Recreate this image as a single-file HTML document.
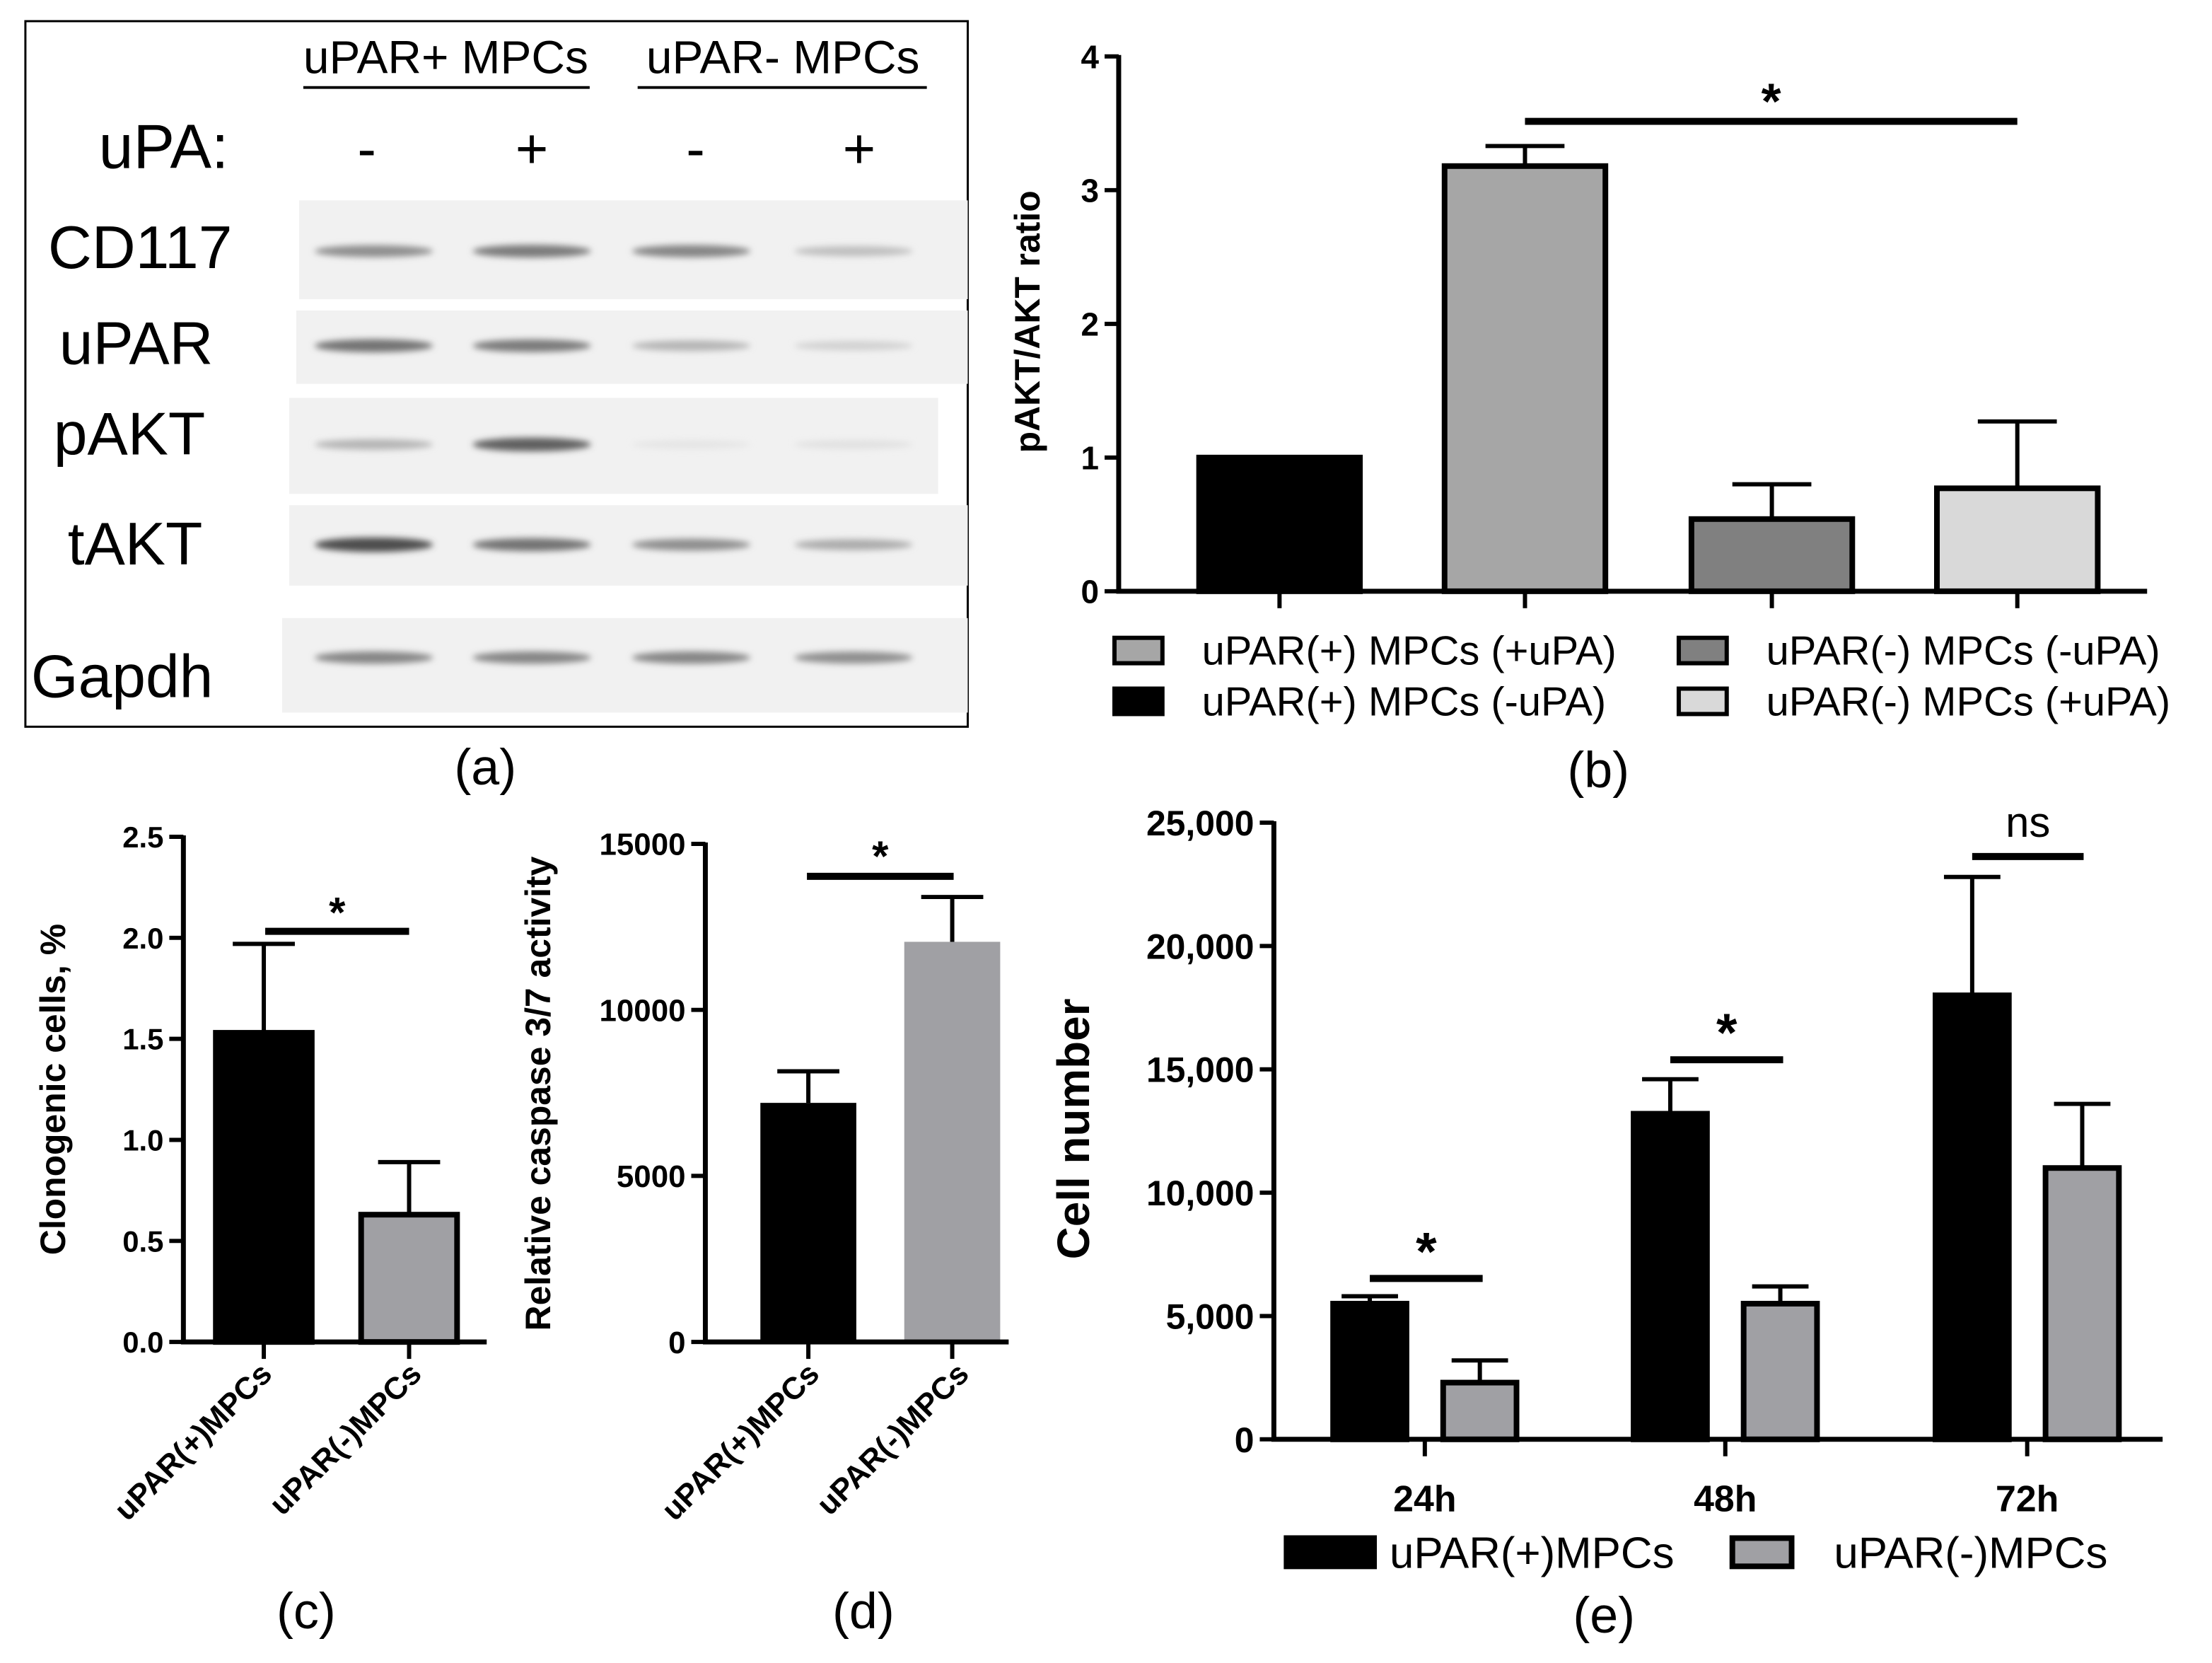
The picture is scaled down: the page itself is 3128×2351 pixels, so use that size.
<!DOCTYPE html>
<html><head><meta charset="utf-8"><style>
html,body{margin:0;padding:0;background:#fff;overflow:hidden}
svg{display:block}
text{font-family:"Liberation Sans",Arial,sans-serif}
</style></head><body>
<svg id="fig" width="3128" height="2351" viewBox="0 0 1568 1178.5" xmlns="http://www.w3.org/2000/svg">
<defs>
<filter id="blur" x="-20%" y="-100%" width="140%" height="300%"><feGaussianBlur stdDeviation="2.2"/></filter>
</defs>
<g id="panelA">
<rect x="18" y="15" width="668" height="500" fill="#fff" stroke="#000" stroke-width="1.5"/>
<text x="316" y="52" font-size="33" text-anchor="middle">uPAR+ MPCs</text>
<line x1="215" y1="62" x2="418" y2="62" stroke="#000" stroke-width="2"/>
<text x="555" y="52" font-size="33" text-anchor="middle">uPAR- MPCs</text>
<line x1="452" y1="62" x2="657" y2="62" stroke="#000" stroke-width="2"/>
<text x="70" y="119" font-size="44">uPA:</text>
<text x="260" y="119" font-size="40" text-anchor="middle">-</text>
<text x="377" y="119" font-size="40" text-anchor="middle">+</text>
<text x="493" y="119" font-size="40" text-anchor="middle">-</text>
<text x="609" y="119" font-size="40" text-anchor="middle">+</text>
<text x="34" y="190" font-size="43">CD117</text>
<text x="42" y="258" font-size="43">uPAR</text>
<text x="38" y="322" font-size="43">pAKT</text>
<text x="48" y="400" font-size="43">tAKT</text>
<text x="22" y="494" font-size="43">Gapdh</text>
<g id="blots"></g>
<text x="344" y="556" font-size="36" text-anchor="middle">(a)</text>
</g>
<g id="panelB"></g>
<g id="panelC"></g>
<g id="panelD"></g>
<g id="panelE"></g>
</svg>
<script>
const NS="http://www.w3.org/2000/svg";
function el(tag,attrs,parent,txt){const e=document.createElementNS(NS,tag);for(const k in attrs)e.setAttribute(k,attrs[k]);if(txt!==undefined)e.textContent=txt;parent.appendChild(e);return e;}

const blotRows=["CD117","uPAR","pAKT","tAKT","Gapdh"];
const blotIntensity=[[0.5,0.6,0.55,0.25],[0.65,0.6,0.3,0.15],[0.3,0.75,0.05,0.07],[0.85,0.65,0.5,0.35],[0.55,0.55,0.55,0.5]];
const blotStrips=[[212,142,474,70,178],[210,220,476,52,245],[205,282,460,68,315],[205,358,481,57,386],[200,438,486,67,466]];
const laneX=[265,377,490,605];
const blots=document.getElementById('blots');
blotRows.forEach((r,i)=>{
 const s=blotStrips[i];
 const st=el('rect',{x:s[0],y:s[1],width:s[2],height:s[3],fill:'#f1f1f1'},blots);
 
 
 blotIntensity[i].forEach((v,j)=>{
  const g=Math.round(238-v*190);
  const b=el('ellipse',{cx:laneX[j],cy:s[4],rx:42,ry:3+v*2.5,fill:`rgb(${g},${g},${g})`,filter:'url(#blur)'},blots);
  
  
 });
});

function barChart(cfg){
 const g=document.getElementById(cfg.id);
 const y=v=>cfg.y0-(v-0)*(cfg.y0-cfg.yTop)/cfg.yMax;
 cfg.values.forEach((v,i)=>{
  const cx=cfg.centers[i],w=cfg.barW;
  const e=cfg.errs[i];
  const eb=el('path',{d:`M${cx},${y(v)} V${y(e)} M${cx-cfg.cap},${y(e)} H${cx+cfg.cap}`,stroke:'#000','stroke-width':3,fill:'none'},g);
  
  
  const b=el('rect',{x:cx-w/2,y:y(v),width:w,height:y(0)-y(v),fill:cfg.colors[i],stroke:'#000','stroke-width':cfg.sw},g);
  
  
 });
 const ax=el('path',{d:`M${cfg.x0},${cfg.yTop-1} V${cfg.y0} H${cfg.xEnd}`,stroke:'#000','stroke-width':3.5,fill:'none'},g);
 
 
 cfg.ticks.forEach((t,i)=>{
  el('line',{x1:cfg.x0-10,x2:cfg.x0,y1:y(t),y2:y(t),stroke:'#000','stroke-width':3},g);
  const tl=el('text',{x:cfg.x0-14,y:y(t)+cfg.tfs*0.36,'font-size':cfg.tfs,'font-weight':'bold','text-anchor':'end'},g,cfg.tickLabels[i]);
  
  
 });
 (cfg.xTicks||[]).forEach(x=>el('line',{x1:x,x2:x,y1:cfg.y0,y2:cfg.y0+12,stroke:'#000','stroke-width':3},g));
 const yl=el('text',{x:cfg.ylx,y:cfg.yly,'font-size':cfg.ylfs,'font-weight':'bold','text-anchor':'middle',transform:`rotate(-90 ${cfg.ylx} ${cfg.yly})`},g,cfg.ylabel);
 
 
 (cfg.sig||[]).forEach(s=>{
  const l=el('line',{x1:s[0],x2:s[1],y1:s[2],y2:s[2],stroke:'#000','stroke-width':5},g);
  
  
  const t=el('text',{x:(s[0]+s[1])/2,y:s[2]+s[4],'font-size':s[5],'font-weight':s[3]==='ns'?'normal':'bold','text-anchor':'middle'},g,s[3]);
  
  
 });
 return {g,y};
}

const bCategories=["uPAR(+) MPCs (-uPA)","uPAR(+) MPCs (+uPA)","uPAR(-) MPCs (-uPA)","uPAR(-) MPCs (+uPA)"];
const bValues=[1.0,3.18,0.54,0.77];
const bErrors=[1.0,3.33,0.80,1.27];
const bTicks=[0,1,2,3,4];
const bTickLabels=["0","1","2","3","4"];
const B=barChart({id:'panelB',values:bValues,errs:bErrors,centers:[907,1081,1256,1430],barW:114,cap:28,sw:4,
 colors:['#000','#a6a6a6','#808080','#d9d9d9'],x0:793,y0:419,yTop:40,yMax:4,xEnd:1522,ticks:bTicks,tickLabels:bTickLabels,tfs:23,
 xTicks:[907,1081,1256,1430],ylx:737,yly:228,ylfs:25,ylabel:'pAKT/AKT ratio',sig:[[1081,1430,86,'*',-2,36]]});
[[790,461,'#a6a6a6',bCategories[1],852],[790,497,'#000',bCategories[0],852],[1190,461,'#808080',bCategories[2],1252],[1190,497,'#d9d9d9',bCategories[3],1252]].forEach(l=>{
 const r=el('rect',{x:l[0],y:l[1]-9,width:34,height:18,fill:l[2],stroke:'#000','stroke-width':3},B.g);
 
 
 const t=el('text',{x:l[4],y:l[1]+10,'font-size':29},B.g,l[3]);
 
 
});
el('rect',{x:1556,y:440,width:20,height:80,fill:'#fff'},B.g);
el('text',{x:1133,y:558,'font-size':36,'text-anchor':'middle',},B.g,'(b)');

const cCategories=["uPAR(+)MPCs","uPAR(-)MPCs"];
const cValues=[1.53,0.63];
const cErrors=[1.97,0.89];
const cTicks=[0,0.5,1,1.5,2,2.5];
const cTickLabels=["0.0","0.5","1.0","1.5","2.0","2.5"];
const C=barChart({id:'panelC',values:cValues,errs:cErrors,centers:[187,290],barW:68,cap:22,sw:4,colors:['#000','#a0a0a4'],
 x0:130,y0:951,yTop:593,yMax:2.5,xEnd:345,ticks:cTicks,tickLabels:cTickLabels,tfs:21,xTicks:[187,290],
 ylx:46,yly:772,ylfs:25,ylabel:'Clonogenic cells, %',sig:[[188,290,660,'*',-3,30]]});
cCategories.forEach((c,i)=>{const x=[194,300][i];const t=el('text',{x:x,y:975,'font-size':22,'font-weight':'bold','text-anchor':'end',transform:`rotate(-45 ${x} 975)`},C.g,c);
 });
el('text',{x:217,y:1154,'font-size':36,'text-anchor':'middle',},C.g,'(c)');

const dCategories=["uPAR(+)MPCs","uPAR(-)MPCs"];
const dValues=[7200,12050];
const dErrors=[8150,13400];
const dTicks=[0,5000,10000,15000];
const dTickLabels=["0","5000","10000","15000"];
const D=barChart({id:'panelD',values:dValues,errs:dErrors,centers:[573,675],barW:68,cap:22,sw:0,colors:['#000','#a0a0a4'],
 x0:500,y0:951,yTop:598,yMax:15000,xEnd:715,ticks:dTicks,tickLabels:dTickLabels,tfs:22,xTicks:[573,675],
 ylx:390,yly:775,ylfs:25,ylabel:'Relative caspase 3/7 activity',sig:[[572,676,621,'*',-4,30]]});
dCategories.forEach((c,i)=>{const x=[582,688][i];const t=el('text',{x:x,y:975,'font-size':22,'font-weight':'bold','text-anchor':'end',transform:`rotate(-45 ${x} 975)`},D.g,c);
 });
el('text',{x:612,y:1154,'font-size':36,'text-anchor':'middle',},D.g,'(d)');

const eCategories=["24h","48h","72h"];
const ePos=[5500,13200,18000];
const ePosErr=[5800,14600,22800];
const eNeg=[2300,5500,11000];
const eNegErr=[3200,6200,13600];
const eTicks=[0,5000,10000,15000,20000,25000];
const eTickLabels=["0","5,000","10,000","15,000","20,000","25,000"];
const eVals=[],eErrs=[],eCenters=[],eCols=[];
const groupC=[1010,1223,1437];
eCategories.forEach((c,i)=>{eVals.push(ePos[i],eNeg[i]);eErrs.push(ePosErr[i],eNegErr[i]);eCenters.push(groupC[i]-39,groupC[i]+39);eCols.push('#000','#a0a0a4');});
const E=barChart({id:'panelE',values:eVals,errs:eErrs,centers:eCenters,barW:52,cap:20,sw:4,colors:eCols,
 x0:903,y0:1020,yTop:583,yMax:25000,xEnd:1533,ticks:eTicks,tickLabels:eTickLabels,tfs:25,xTicks:groupC,
 ylx:772,yly:800,ylfs:32,ylabel:'Cell number',
 sig:[[971,1051,906,'*',-6,38],[1184,1264,751,'*',-6,38],[1398,1477,607,'ns',-14,30]]});
eCategories.forEach((c,i)=>{const t=el('text',{x:groupC[i],y:1071,'font-size':26,'font-weight':'bold','text-anchor':'middle'},E.g,c);
 });
[[912,'#000','uPAR(+)MPCs',985],[1228,'#a0a0a4','uPAR(-)MPCs',1300]].forEach(l=>{
 const r=el('rect',{x:l[0],y:1090,width:l[1]==='#000'?62:42,height:20,fill:l[1],stroke:'#000','stroke-width':4},E.g);
 
 
 const t=el('text',{x:l[3],y:1111,'font-size':31},E.g,l[2]);
 
 
});
el('text',{x:1137,y:1157,'font-size':36,'text-anchor':'middle',},E.g,'(e)');
</script>
</body></html>
